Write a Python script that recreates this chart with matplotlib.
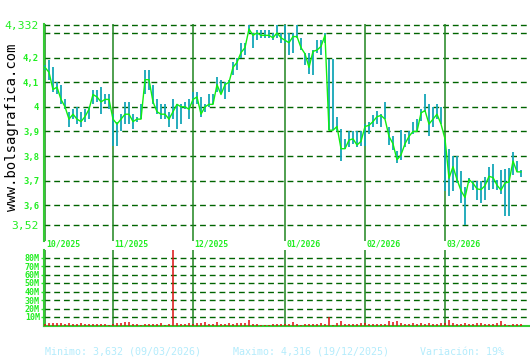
import numpy as np
import matplotlib
matplotlib.use("Agg")
import matplotlib.pyplot as plt

# ----------------------------------------------------------------------------
# Data (one value per trading day)
# ----------------------------------------------------------------------------
close = [
    4.16, 4.14, 4.07, 4.08, 4.03, 4.00, 3.95, 3.97, 3.95, 3.94,
    3.96, 3.99, 4.05, 4.04, 4.02, 4.03, 4.03, 3.95, 3.93, 3.95,
    3.97, 3.97, 3.94, 3.95, 3.95, 4.11, 4.11, 4.02, 3.98, 3.97,
    3.97, 3.95, 3.98, 4.01, 4.00, 4.00, 3.99, 4.03, 4.04, 3.97,
    4.00, 4.01, 4.01, 4.09, 4.05, 4.09, 4.10, 4.16, 4.18, 4.22,
    4.24, 4.316, 4.29, 4.30, 4.29, 4.29, 4.29, 4.28, 4.30, 4.28,
    4.27, 4.26, 4.285, 4.285, 4.24, 4.215, 4.16, 4.225, 4.23, 4.245,
    4.29, 3.905, 3.905, 3.92, 3.83, 3.83, 3.865, 3.87, 3.845, 3.86,
    3.92, 3.925, 3.94, 3.96, 3.965, 3.95, 3.88, 3.85, 3.785, 3.805,
    3.85, 3.88, 3.90, 3.90, 3.975, 3.985, 3.93, 3.95, 3.97, 3.93,
    3.87, 3.71, 3.757, 3.705, 3.66, 3.632, 3.705, 3.69, 3.667, 3.664,
    3.68, 3.718, 3.713, 3.682, 3.662, 3.691, 3.695, 3.78, 3.736, 3.736,
]
high = [
    4.17, 4.19, 4.16, 4.10, 4.09, 4.03, 3.98, 3.99, 4.00, 3.98,
    3.99, 4.00, 4.07, 4.07, 4.08, 4.05, 4.05, 3.97, 3.94, 3.97,
    4.02, 4.02, 3.97, 3.96, 4.01, 4.15, 4.15, 4.09, 4.03, 4.01,
    4.01, 3.98, 4.03, 4.01, 4.01, 4.02, 4.03, 4.06, 4.06, 4.04,
    4.01, 4.05, 4.05, 4.12, 4.11, 4.10, 4.11, 4.18, 4.20, 4.26,
    4.26, 4.33, 4.30, 4.31, 4.31, 4.31, 4.31, 4.30, 4.33, 4.30,
    4.33, 4.30, 4.30, 4.33, 4.28, 4.22, 4.22, 4.23, 4.27, 4.27,
    4.30, 4.195, 4.195, 3.96, 3.91, 3.87, 3.90, 3.90, 3.90, 3.90,
    3.93, 3.94, 3.965, 3.985, 3.97, 4.02, 3.92, 3.88, 3.82, 3.905,
    3.89, 3.90, 3.94, 3.95, 3.99, 4.05, 4.01, 4.00, 4.01, 4.00,
    3.87, 3.83, 3.80, 3.80, 3.74, 3.675, 3.71, 3.70, 3.70, 3.70,
    3.715, 3.756, 3.766, 3.702, 3.742, 3.749, 3.753, 3.816, 3.78, 3.742,
]
low = [
    4.15, 4.11, 4.06, 4.05, 4.01, 3.99, 3.92, 3.95, 3.93, 3.92,
    3.94, 3.95, 4.01, 4.02, 3.97, 4.01, 3.99, 3.84, 3.84, 3.90,
    3.93, 3.93, 3.91, 3.94, 3.95, 4.05, 4.07, 4.01, 3.97, 3.95,
    3.95, 3.92, 3.95, 3.91, 3.93, 3.99, 3.95, 4.01, 4.01, 3.96,
    3.98, 4.00, 4.01, 4.06, 4.05, 4.03, 4.06, 4.13, 4.15, 4.20,
    4.21, 4.30, 4.24, 4.27, 4.28, 4.28, 4.28, 4.27, 4.28, 4.26,
    4.26, 4.21, 4.22, 4.28, 4.23, 4.17, 4.135, 4.13, 4.22, 4.21,
    4.26, 3.905, 3.905, 3.90, 3.78, 3.83, 3.835, 3.85, 3.835, 3.84,
    3.84, 3.89, 3.92, 3.93, 3.92, 3.95, 3.845, 3.825, 3.77, 3.785,
    3.836, 3.85, 3.89, 3.90, 3.944, 3.977, 3.88, 3.92, 3.95, 3.93,
    3.66, 3.64, 3.66, 3.69, 3.61, 3.52, 3.69, 3.662, 3.62, 3.61,
    3.62, 3.662, 3.668, 3.662, 3.648, 3.557, 3.557, 3.722, 3.736, 3.715,
]
# volume in millions of shares
volume = [
    2.3, 3.5, 3.5, 3.5, 3.5, 2.3, 3.5, 2.3, 2.3, 3.5,
    1.2, 1.2, 1.2, 1.2, 2.3, 2.3, 0.4, 1.5, 3.5, 3.5,
    4.6, 4.6, 2.3, 2.3, 0.4, 2.3, 2.3, 2.3, 2.3, 3.5,
    0.4, 2.3, 95.0, 3.5, 2.3, 1.2, 3.5, 2.0, 3.5, 3.5,
    4.6, 2.3, 1.2, 4.6, 2.3, 2.3, 3.5, 2.3, 3.5, 3.5,
    3.5, 6.9, 2.3, 1.2, 0.4, 0.4, 0.4, 1.2, 2.3, 1.2,
    1.5, 2.3, 4.6, 1.2, 0.4, 2.3, 2.3, 2.3, 2.3, 3.5,
    2.3, 10.4, 0.4, 3.5, 5.8, 2.3, 2.3, 2.3, 2.3, 3.5,
    2.5, 2.3, 2.3, 2.3, 2.3, 2.3, 5.8, 4.6, 5.8, 3.5,
    2.3, 2.3, 3.5, 2.3, 3.5, 2.3, 3.5, 2.3, 2.3, 3.5,
    3.0, 6.9, 3.5, 2.3, 2.3, 3.5, 2.3, 2.3, 3.5, 3.5,
    2.3, 1.2, 2.3, 3.5, 5.8, 2.3, 0.4, 1.2, 1.2, 1.2,
]

month_starts = [0, 17, 37, 60, 80, 100]
month_labels = ["10/2025", "11/2025", "12/2025", "01/2026", "02/2026", "03/2026"]

price_ticks = [4.332, 4.3, 4.2, 4.1, 4.0, 3.9, 3.8, 3.7, 3.6, 3.52]
price_tick_labels = ["4,332", "", "4,2", "4,1", "4", "3,9", "3,8", "3,7", "3,6", "3,52"]
vol_ticks = [10, 20, 30, 40, 50, 60, 70, 80]
vol_tick_labels = ["10M", "20M", "30M", "40M", "50M", "60M", "70M", "80M"]

footer = ["Minimo: 3,632 (09/03/2026)", "Maximo: 4,316 (19/12/2025)", "Variación: 19%"]

# ----------------------------------------------------------------------------
# Styling
# ----------------------------------------------------------------------------
W, H = 530, 360
LABEL_GREEN = "#22ee22"
GRID_GREEN = "#006400"
MONTH_GREEN = "#1f851f"
SPINE_GREEN = "#33cc33"
MONO = "DejaVu Sans Mono"

plt.rcParams["lines.scale_dashes"] = False


def px_axes(fig, left, top, right, bottom):
    """Place an axes using pixel coordinates measured from the top-left."""
    return fig.add_axes([left / W, (H - bottom) / H, (right - left) / W, (bottom - top) / H])


def dashed_grid(ax, values):
    for v in values:
        ax.axhline(v, color=GRID_GREEN, lw=1.0, dashes=(4.2, 2.8), zorder=1)


def month_lines(ax):
    for m in month_starts:
        ax.axvline(m, color=MONTH_GREEN, lw=1.1, zorder=2)


def clean(ax):
    for side in ("top", "right", "bottom"):
        ax.spines[side].set_visible(False)
    ax.spines["left"].set_color(SPINE_GREEN)
    ax.spines["left"].set_linewidth(1.5)
    ax.set_xticks([])
    ax.set_facecolor("white")


days = np.arange(len(close))
xmin, xmax = -0.25, (W - 45) / 4.0

fig = plt.figure(figsize=(W / 100, H / 100), dpi=100, facecolor="white")

# --- price panel -------------------------------------------------------------
ax = px_axes(fig, 44, 24, W, 241)
ax.set_xlim(xmin, xmax)
ax.set_ylim(3.52 - 16 / 248, 4.332 + 1 / 248)
clean(ax)
dashed_grid(ax, price_ticks)
month_lines(ax)
ax.vlines(days, low, high, color="#14a6b8", lw=1.3, zorder=3)
ax.plot(days, close, color="#11ee11", lw=1.0, zorder=4)

ax.set_yticks(price_ticks, price_tick_labels)
ax.tick_params(axis="y", length=0, pad=3.5, colors=LABEL_GREEN)
for t in ax.get_yticklabels():
    t.set_family(MONO)
    if t.get_text() in ("4,332", "3,52"):
        t.set_fontsize(8.2)
    else:
        t.set_fontsize(6.4)
        t.set_fontweight("bold")

for m, lab in zip(month_starts, month_labels):
    ax.text(m + 0.3, -0.013, lab, transform=ax.get_xaxis_transform(),
            ha="left", va="center", color=LABEL_GREEN, fontsize=5.9,
            fontweight="bold", family=MONO)

fig.text(12 / W, (H - 127) / H, "www.bolsagrafica.com", rotation=90,
         ha="center", va="center", fontsize=10.0, family=MONO, color="black")

# --- volume panel ------------------------------------------------------------
axv = px_axes(fig, 44, 250, W, 325.5)
axv.set_xlim(xmin, xmax)
axv.set_ylim(0, 75.5 / 0.85)
clean(axv)
axv.spines["bottom"].set_visible(True)
axv.spines["bottom"].set_color(SPINE_GREEN)
axv.spines["bottom"].set_linewidth(1.5)
dashed_grid(axv, vol_ticks)
month_lines(axv)
axv.vlines(days, 0, volume, color="#dd1111", lw=1.1, zorder=3)

axv.set_yticks(vol_ticks, vol_tick_labels)
axv.tick_params(axis="y", length=2, width=1, pad=1, colors=LABEL_GREEN)
for t in axv.get_yticklabels():
    t.set_family(MONO)
    t.set_fontsize(6.0)
    t.set_fontweight("bold")

# --- footer ------------------------------------------------------------------
for x, s in zip([45, 233, 420], footer):
    fig.text(x / W, (H - 352) / H, s, ha="left", va="center",
             fontsize=7.2, family=MONO, color="#b4ecfc")

fig.savefig("out.png", dpi=100, facecolor="white")
